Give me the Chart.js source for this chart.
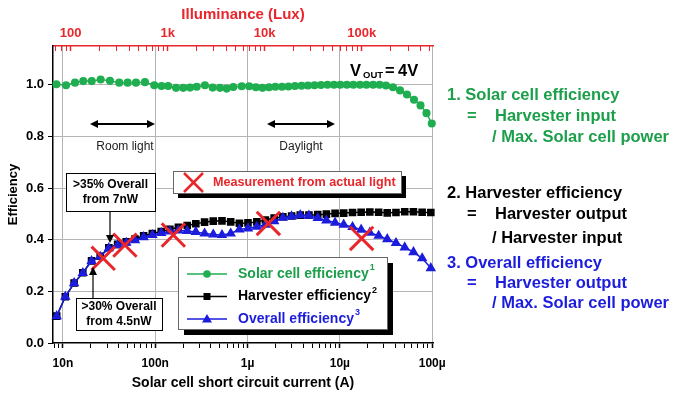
<!DOCTYPE html>
<html>
<head>
<meta charset="utf-8">
<script src="https://cdn.jsdelivr.net/npm/chart.js@4.4.1/dist/chart.umd.min.js"></script>
<style>
  body { margin: 0; background: #fff; }
  #wrap { width: 675px; height: 394px; }
</style>
</head>
<body>
<div id="wrap"><canvas id="c" width="675" height="394"></canvas></div>
<script>
// DATA ----------------------------------------
const solarCurrent = [8.5e-9, 1.08e-8, 1.35e-8, 1.66e-8, 2.05e-8, 2.56e-8, 3.23e-8, 4.07e-8, 5.02e-8, 6.18e-8,
    7.73e-8, 9.75e-8, 1.17e-7, 1.38e-7, 1.68e-7, 2.01e-7, 2.38e-7, 2.81e-7, 3.45e-7, 4.19e-7,
    5.02e-7, 5.94e-7, 7.0e-7, 8.63e-7, 1.04e-6, 1.23e-6, 1.45e-6, 1.71e-6, 2.0e-6, 2.36e-6,
    2.77e-6, 3.26e-6, 3.84e-6, 4.51e-6, 5.31e-6, 6.24e-6, 7.34e-6, 8.63e-6, 1.01e-5, 1.19e-5,
    1.40e-5, 1.65e-5, 1.94e-5, 2.29e-5, 2.69e-5, 3.16e-5, 3.76e-5, 4.48e-5, 5.33e-5, 6.35e-5,
    7.47e-5, 8.67e-5, 9.89e-5];
const solarEff = [1.002, 0.998, 1.008, 1.014, 1.014, 1.020, 1.015, 1.008, 1.008, 1.008,
    1.010, 0.998, 0.995, 0.995, 0.988, 0.988, 0.989, 0.992, 0.998, 0.989,
    0.988, 0.985, 0.991, 0.994, 0.994, 0.990, 0.988, 0.990, 0.992, 0.992,
    0.993, 0.995, 0.996, 0.997, 0.998, 0.999, 1.0, 1.0, 1.0, 1.0,
    1.0, 1.0, 1.0, 1.0, 1.0, 0.997, 0.990, 0.978, 0.962, 0.942,
    0.920, 0.890, 0.850];

const harvCurrent = [8.55e-9, 1.06e-8, 1.32e-8, 1.64e-8, 2.04e-8, 2.53e-8, 3.14e-8, 3.91e-8, 4.85e-8, 6.03e-8,
    7.48e-8, 9.3e-8, 1.16e-7, 1.44e-7, 1.78e-7, 2.22e-7, 2.75e-7, 3.42e-7, 4.25e-7, 5.28e-7,
    6.56e-7, 8.15e-7, 1.01e-6, 1.26e-6, 1.56e-6, 1.94e-6, 2.41e-6, 3.0e-6, 3.72e-6, 4.62e-6,
    5.75e-6, 7.14e-6, 8.87e-6, 1.10e-5, 1.37e-5, 1.70e-5, 2.11e-5, 2.63e-5, 3.26e-5, 4.05e-5,
    5.04e-5, 6.26e-5, 7.78e-5, 9.66e-5];
const harvEff = [0.104, 0.179, 0.232, 0.272, 0.318, 0.336, 0.369, 0.382, 0.392, 0.403,
    0.415, 0.424, 0.432, 0.440, 0.448, 0.455, 0.462, 0.468, 0.472, 0.473,
    0.469, 0.464, 0.465, 0.469, 0.476, 0.484, 0.489, 0.492, 0.495, 0.495,
    0.497, 0.499, 0.502, 0.503, 0.505, 0.506, 0.507, 0.506, 0.504, 0.505,
    0.508, 0.508, 0.506, 0.505];
const overallEff = [0.104, 0.179, 0.232, 0.271, 0.317, 0.334, 0.367, 0.379, 0.388, 0.398,
    0.410, 0.418, 0.426, 0.432, 0.436, 0.434, 0.430, 0.424, 0.420, 0.418,
    0.424, 0.440, 0.444, 0.450, 0.458, 0.472, 0.485, 0.490, 0.495, 0.493,
    0.484, 0.475, 0.466, 0.458, 0.449, 0.439, 0.427, 0.415, 0.402, 0.387,
    0.370, 0.352, 0.328, 0.290];

// measurement from actual light (red crosses)
const measCurrent = [2.73e-8, 4.69e-8, 1.57e-7, 1.68e-6, 1.72e-5];
const measEff = [0.328, 0.379, 0.418, 0.463, 0.405];

// axis ticks
const currentDecades = [1e-8, 1e-7, 1e-6, 1e-5, 1e-4];
const currentLabels = ['10n', '100n', '1\u00b5', '10\u00b5', '100\u00b5'];
const luxDecades = [100, 1e3, 1e4, 1e5];
const luxLabels = ['100', '1k', '10k', '100k'];
const effTicks = [0, 0.2, 0.4, 0.6, 0.8, 1.0];

// STYLE ----------------------------------------
const F = '"Liberation Sans", Arial, sans-serif';
const GREEN = '#1fae50';
const GREEN_TXT = '#1c9f4a';
const BLUE = '#1c1cdc';
const RED = '#e8262b';
const GRID = '#b4b4b4';

function isDecade(v) {
    const l = Math.log10(v);
    return Math.abs(l - Math.round(l)) < 1e-6;
}
function labelFor(v, decades, labels) {
    for (let i = 0; i < decades.length; i++) {
        if (Math.abs(v / decades[i] - 1) < 1e-6) return labels[i];
    }
    return '';
}
// 1..9 x 10^n ticks inside the axis range
function logTicks(min, max) {
    const out = [];
    for (let e = Math.floor(Math.log10(min)); e <= Math.ceil(Math.log10(max)); e++) {
        for (let m = 1; m < 10; m++) {
            const v = m * Math.pow(10, e);
            if (v >= min * 0.9999 && v <= max * 1.0001) out.push({value: v});
        }
    }
    return out;
}

function pts(xs, ys) {
    return xs.map((x, i) => ({x: x, y: ys[i]}));
}

// drawing helpers for the notes
function txt(ctx, s, x, y, size, color, align, weight) {
    ctx.save();
    ctx.font = (weight || 'bold') + ' ' + size + 'px ' + F;
    ctx.fillStyle = color;
    ctx.textAlign = align || 'left';
    ctx.textBaseline = 'middle';
    ctx.fillText(s, x, y);
    const w = ctx.measureText(s).width;
    ctx.restore();
    return w;
}
function head(ctx, x, y, dx, dy) {
    // filled arrow head with tip at (x,y) pointing along (dx,dy)
    const len = 8, w = 4;
    ctx.beginPath();
    ctx.moveTo(x, y);
    ctx.lineTo(x - dx * len - dy * w, y - dy * len + dx * w);
    ctx.lineTo(x - dx * len + dy * w, y - dy * len - dx * w);
    ctx.closePath();
    ctx.fill();
}
function line(ctx, x1, y1, x2, y2) {
    ctx.beginPath();
    ctx.moveTo(x1, y1);
    ctx.lineTo(x2, y2);
    ctx.stroke();
}
function box(ctx, x, y, w, h, shadow) {
    if (shadow) {
        ctx.fillStyle = '#000';
        ctx.fillRect(x + shadow, y + shadow, w, h);
    }
    ctx.fillStyle = '#fff';
    ctx.fillRect(x, y, w, h);
    ctx.strokeStyle = shadow ? '#666' : '#000';
    ctx.lineWidth = 1;
    ctx.strokeRect(x + 0.5, y + 0.5, w, h);
}
function marker(ctx, kind, x, y, color) {
    ctx.fillStyle = color;
    ctx.beginPath();
    if (kind === 'circle') ctx.arc(x, y, 3.8, 0, Math.PI * 2);
    else if (kind === 'rect') ctx.rect(x - 3.5, y - 3.5, 7, 7);
    else { ctx.moveTo(x, y - 5); ctx.lineTo(x + 5, y + 3.5); ctx.lineTo(x - 5, y + 3.5); ctx.closePath(); }
    ctx.fill();
}

const notes = {
    id: 'notes',
    afterDatasetsDraw(chart) {
        const ctx = chart.ctx;
        ctx.save();

        // V_OUT = 4V
        txt(ctx, 'V', 350, 71, 16.5, '#000');
        txt(ctx, 'OUT', 363, 75, 9.5, '#000');
        txt(ctx, '=', 385, 71, 16.5, '#000');
        txt(ctx, '4V', 398, 71, 16.5, '#000');

        // light ranges
        ctx.strokeStyle = '#000';
        ctx.fillStyle = '#000';
        ctx.lineWidth = 2;
        line(ctx, 94, 124, 151, 124); head(ctx, 90, 124, -1, 0); head(ctx, 155, 124, 1, 0);
        line(ctx, 271, 124, 331, 124); head(ctx, 267, 124, -1, 0); head(ctx, 335, 124, 1, 0);
        txt(ctx, 'Room light', 125, 147, 12, '#222', 'center', 'normal');
        txt(ctx, 'Daylight', 301, 147, 12, '#222', 'center', 'normal');

        // measurement key
        box(ctx, 173, 171, 228, 22, 5);
        ctx.strokeStyle = RED;
        ctx.lineWidth = 2.5;
        line(ctx, 184, 173, 203, 192); line(ctx, 203, 173, 184, 192);
        txt(ctx, 'Measurement from actual light', 213, 183, 12.6, RED);

        // >35% box and arrow
        box(ctx, 66, 173, 89, 38, 0);
        txt(ctx, '>35% Overall', 110.5, 185, 12, '#000', 'center');
        txt(ctx, 'from 7nW', 110.5, 200, 12, '#000', 'center');
        ctx.strokeStyle = '#000'; ctx.fillStyle = '#000'; ctx.lineWidth = 1.2;
        line(ctx, 110, 212, 110, 236); head(ctx, 110, 243, 0, 1);

        // >30% box and arrow
        box(ctx, 76, 298, 86, 32, 0);
        txt(ctx, '>30% Overall', 119, 307, 12, '#000', 'center');
        txt(ctx, 'from 4.5nW', 119, 322, 12, '#000', 'center');
        ctx.strokeStyle = '#000'; ctx.fillStyle = '#000'; ctx.lineWidth = 1.2;
        line(ctx, 93, 298, 93, 274); head(ctx, 93, 267, 0, -1);

        // series legend
        box(ctx, 178, 257, 209, 72, 6);
        const rows = [
            {y: 274, c: GREEN, t: GREEN_TXT, k: 'circle', s: 'Solar cell efficiency', n: '1'},
            {y: 296.5, c: '#000', t: '#000', k: 'rect', s: 'Harvester efficiency', n: '2'},
            {y: 319, c: BLUE, t: BLUE, k: 'tri', s: 'Overall efficiency', n: '3'}
        ];
        rows.forEach(r => {
            ctx.strokeStyle = r.c; ctx.lineWidth = 1.5;
            line(ctx, 187, r.y, 227, r.y);
            marker(ctx, r.k, 207, r.y, r.c);
            const w = txt(ctx, r.s, 238, r.y, 14, r.t);
            txt(ctx, r.n, 239 + w, r.y - 6, 9, r.t);
        });

        // definitions on the right
        const defs = [
            [GREEN_TXT, '1. Solar cell efficiency', null, 95],
            [GREEN_TXT, '=', 'Harvester input', 116],
            [GREEN_TXT, null, '/ Max. Solar cell power', 137],
            ['#000', '2. Harvester efficiency', null, 193],
            ['#000', '=', 'Harvester output', 214],
            ['#000', null, '/ Harvester input', 238],
            [BLUE, '3. Overall efficiency', null, 263],
            [BLUE, '=', 'Harvester output', 283],
            [BLUE, null, '/ Max. Solar cell power', 303]
        ];
        defs.forEach(d => {
            if (d[1] === '=') txt(ctx, '=', 467, d[3], 16.5, d[0]);
            else if (d[1]) txt(ctx, d[1], 447, d[3], 16.5, d[0]);
            if (d[2]) txt(ctx, d[2], d[1] === '=' ? 495 : 492, d[3], 16.5, d[0]);
        });

        ctx.restore();
    }
};

// CHART ----------------------------------------
const config = {
    type: 'line',
    data: {
        datasets: [
            {
                label: 'Measurement from actual light',
                data: pts(measCurrent, measEff),
                showLine: false,
                pointStyle: 'crossRot',
                pointRadius: 16.5,
                pointBorderWidth: 3,
                borderColor: RED,
                backgroundColor: RED,
                order: 0,
                clip: false
            },
            {
                label: 'Overall efficiency',
                data: pts(harvCurrent, overallEff),
                borderColor: BLUE,
                backgroundColor: BLUE,
                borderWidth: 1.5,
                pointStyle: 'triangle',
                pointRadius: 4.6,
                order: 1,
                clip: false
            },
            {
                label: 'Harvester efficiency',
                data: pts(harvCurrent, harvEff),
                borderColor: '#000',
                backgroundColor: '#000',
                borderWidth: 1.5,
                pointStyle: 'rect',
                pointRadius: 4.3,
                order: 2,
                clip: false
            },
            {
                label: 'Solar cell efficiency',
                data: pts(solarCurrent, solarEff),
                borderColor: GREEN,
                backgroundColor: GREEN,
                borderWidth: 1.5,
                pointStyle: 'circle',
                pointRadius: 3.3,
                order: 3,
                clip: false
            }
        ]
    },
    options: {
        responsive: false,
        devicePixelRatio: 1,
        animation: false,
        layout: { padding: { left: 0, top: 0, right: 242, bottom: 0 } },
        plugins: { legend: { display: false }, tooltip: { enabled: false } },
        scales: {
            x: {
                type: 'logarithmic',
                position: 'bottom',
                min: 7.8e-9,
                max: 1.02e-4,
                afterFit: s => { s.height = 51; },
                afterBuildTicks: s => { s.ticks = logTicks(s.min, s.max); },
                ticks: {
                    autoSkip: false, maxRotation: 0, padding: 8, color: '#000',
                    font: { family: F, size: 12, weight: 'bold' },
                    callback: v => labelFor(v, currentDecades, currentLabels)
                },
                grid: {
                    color: c => (c.tick && isDecade(c.tick.value)) ? GRID : 'rgba(0,0,0,0)',
                    tickColor: '#000',
                    tickLength: 5,
                    tickWidth: c => (c.tick && isDecade(c.tick.value)) ? 1.5 : 1
                },
                border: { color: '#000', width: 1.5 },
                title: {
                    display: true, text: 'Solar cell short circuit current (A)', color: '#000',
                    font: { family: F, size: 14, weight: 'bold' }, padding: { top: 0, bottom: 2 }
                }
            },
            x2: {
                type: 'logarithmic',
                position: 'top',
                min: 65.7,
                max: 5.43e5,
                afterFit: s => { s.height = 46; },
                afterBuildTicks: s => { s.ticks = logTicks(s.min, s.max); },
                ticks: {
                    autoSkip: false, maxRotation: 0, padding: 10, color: RED,
                    font: { family: F, size: 13, weight: 'bold' },
                    callback: v => labelFor(v, luxDecades, luxLabels)
                },
                grid: {
                    drawOnChartArea: false,
                    color: RED,
                    tickColor: RED,
                    tickLength: -5,
                    tickWidth: c => (c.tick && isDecade(c.tick.value)) ? 1.5 : 1
                },
                border: { color: RED, width: 1.5 },
                title: {
                    display: true, text: 'Illuminance (Lux)', color: RED,
                    font: { family: F, size: 15, weight: 'bold' }, padding: { top: 6, bottom: 0 }
                }
            },
            y: {
                type: 'linear',
                min: 0,
                max: 1.15,
                afterFit: s => { s.width = 53; },
                afterBuildTicks: s => { s.ticks = effTicks.map(v => ({value: v})); },
                ticks: {
                    padding: 4, color: '#000',
                    font: { family: F, size: 13, weight: 'bold' },
                    callback: v => v.toFixed(1)
                },
                grid: {
                    color: c => (c.tick && c.tick.value === 0) ? 'rgba(0,0,0,0)' : GRID,
                    tickColor: '#000',
                    tickLength: 5
                },
                border: { color: '#000', width: 1.5 },
                title: {
                    display: true, text: 'Efficiency', color: '#000',
                    font: { family: F, size: 13, weight: 'bold' }, padding: { top: 6, bottom: 0 }
                }
            }
        }
    },
    plugins: [notes]
};

const chart = new Chart(document.getElementById('c'), config);
</script>
</body>
</html>
